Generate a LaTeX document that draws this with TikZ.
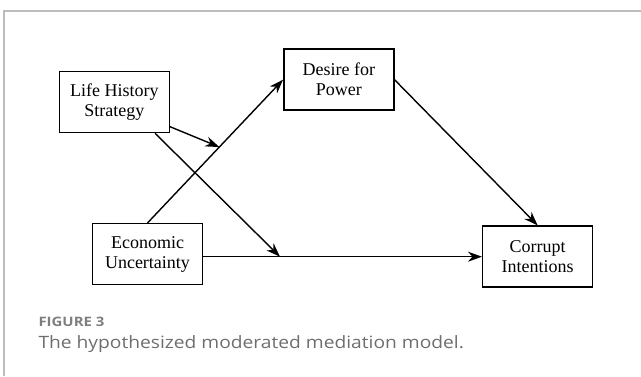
\documentclass[tikz,border=0pt]{standalone}
\usepackage{fontspec}
\usepackage{graphicx}
\setmainfont{Liberation Serif}
\newfontfamily\capfont{Open Sans}
\usetikzlibrary{arrows.meta,calc}
\definecolor{framegray}{HTML}{BDBDBD}
\definecolor{capgray}{HTML}{6E6E6E}
\definecolor{labgray}{HTML}{7E7E7E}
\tikzset{
  box/.style={draw=black,line width=1.5pt,minimum width=110pt,minimum height=61pt,inner sep=0pt,
    align=center,font=\fontsize{18pt}{20pt}\selectfont},
  arr/.style={line width=1.4pt,-{Stealth[length=14pt,width=10pt,inset=4.5pt]}},
  captxt/.style={anchor=base west,inner sep=0pt}
}
\begin{document}
\begin{tikzpicture}[x=1pt,y=-1pt]
\useasboundingbox (0,0) rectangle (641,376);
\draw[framegray,line width=1.6pt] (3.7,376) -- (3.7,11) -- (641,11);
\node[box] (lhs) at (114.3,102) {Life History\\Strategy};
\node[box] (dfp) at (338.8,79.7) {Desire for\\Power};
\node[box] (eu) at (147.5,254.2) {Economic\\Uncertainty};
\node[box] (ci) at (537.7,256.7) {Corrupt\\Intentions};
\draw[arr] (eu.north) -- (dfp.west);
\draw[arr] (dfp.east) -- (ci.north);
\draw[arr] (eu.east |- ci.west) -- (ci.west);
\coordinate (px) at (280,0);
\coordinate (m1) at (px |- ci.west);
\coordinate (m2) at ($(eu.north)!0.53!(dfp.west)$);
\draw[arr] ([xshift=40.7pt]lhs.south) -- (m1);
\draw[arr] ([yshift=-24.7pt]lhs.east) -- (m2);
\node[captxt,text=labgray,font=\capfont\bfseries\fontsize{13pt}{15pt}\selectfont] (fig) at (38.3,326) {\scalebox{1.15}[1]{FIGURE 3}};
\node[captxt,text=capgray,font=\capfont\fontsize{17pt}{20pt}\selectfont] (cap) at (38.3,348.3) {\scalebox{1.13}[1]{The hypothesized moderated mediation model.}};
\end{tikzpicture}
\end{document}
